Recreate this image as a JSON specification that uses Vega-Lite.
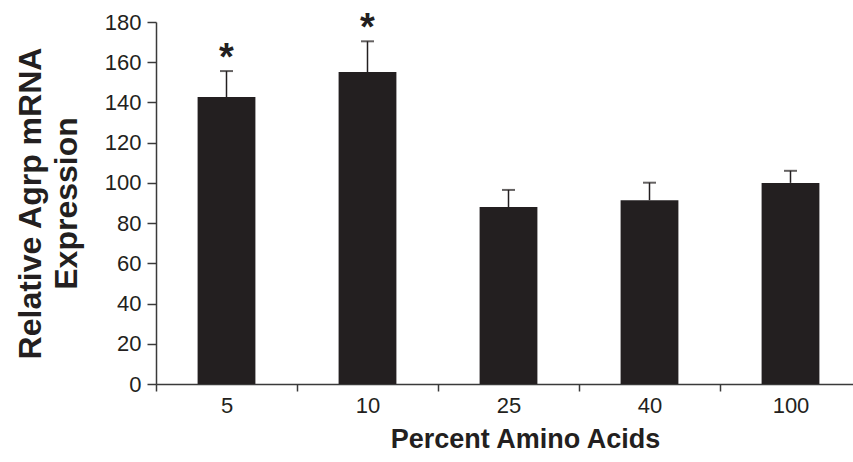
{
  "$schema": "https://vega.github.io/schema/vega-lite/v6.json",
  "autosize": {"type": "none"},
  "padding": {"left": 156, "top": 22, "right": 0, "bottom": 78},
  "width": 697,
  "height": 362,
  "background": "white",
  "config": {
    "view": {"stroke": null},
    "font": "Liberation Sans",
    "axis": {
      "domainColor": "#3a3a3a",
      "domainWidth": 1.5,
      "tickColor": "#3a3a3a",
      "tickWidth": 1.5,
      "labelColor": "#231f20",
      "titleColor": "#231f20",
      "labelFont": "Liberation Sans",
      "titleFont": "Liberation Sans",
      "grid": false
    }
  },
  "data": {
    "values": [
      {"percent": "5", "mean": 142.7, "upper": 155.6, "sig": "*"},
      {"percent": "10", "mean": 155.1, "upper": 170.4, "sig": "*"},
      {"percent": "25", "mean": 88.0, "upper": 96.5, "sig": ""},
      {"percent": "40", "mean": 91.4, "upper": 100.1, "sig": ""},
      {"percent": "100", "mean": 100.0, "upper": 106.0, "sig": ""}
    ]
  },
  "encoding": {
    "x": {
      "field": "percent",
      "type": "nominal",
      "sort": null,
      "scale": {"range": [0, 705], "paddingInner": 0, "paddingOuter": 0},
      "axis": {
        "title": "Percent Amino Acids",
        "titleFontSize": 27,
        "titleFontWeight": "bold",
        "titleX": 369,
        "titlePadding": 10,
        "labelAngle": 0,
        "labelFontSize": 22,
        "labelPadding": 4,
        "tickSize": 7,
        "tickBand": "extent"
      }
    }
  },
  "layer": [
    {
      "mark": {"type": "bar", "color": "#231f20", "width": {"band": 0.41}},
      "encoding": {
        "y": {
          "field": "mean",
          "type": "quantitative",
          "scale": {"domain": [0, 180], "nice": false},
          "axis": {
            "title": ["Relative Agrp mRNA", "Expression"],
            "titleFontSize": 32,
            "titleFontWeight": "bold",
            "titleLineHeight": 36,
            "titlePadding": 21,
            "values": [0, 20, 40, 60, 80, 100, 120, 140, 160, 180],
            "labelFontSize": 22,
            "labelPadding": 6,
            "tickSize": 9
          }
        }
      }
    },
    {
      "mark": {"type": "rule", "color": "#231f20", "strokeWidth": 1.5},
      "encoding": {
        "y": {"field": "mean", "type": "quantitative"},
        "y2": {"field": "upper"}
      }
    },
    {
      "mark": {"type": "tick", "color": "#231f20", "size": 13, "thickness": 2},
      "encoding": {
        "y": {"field": "upper", "type": "quantitative"}
      }
    },
    {
      "mark": {"type": "text", "color": "#231f20", "fontSize": 38, "fontWeight": "bold", "baseline": "alphabetic", "dy": -1},
      "encoding": {
        "y": {"field": "upper", "type": "quantitative"},
        "text": {"field": "sig"}
      }
    }
  ]
}
